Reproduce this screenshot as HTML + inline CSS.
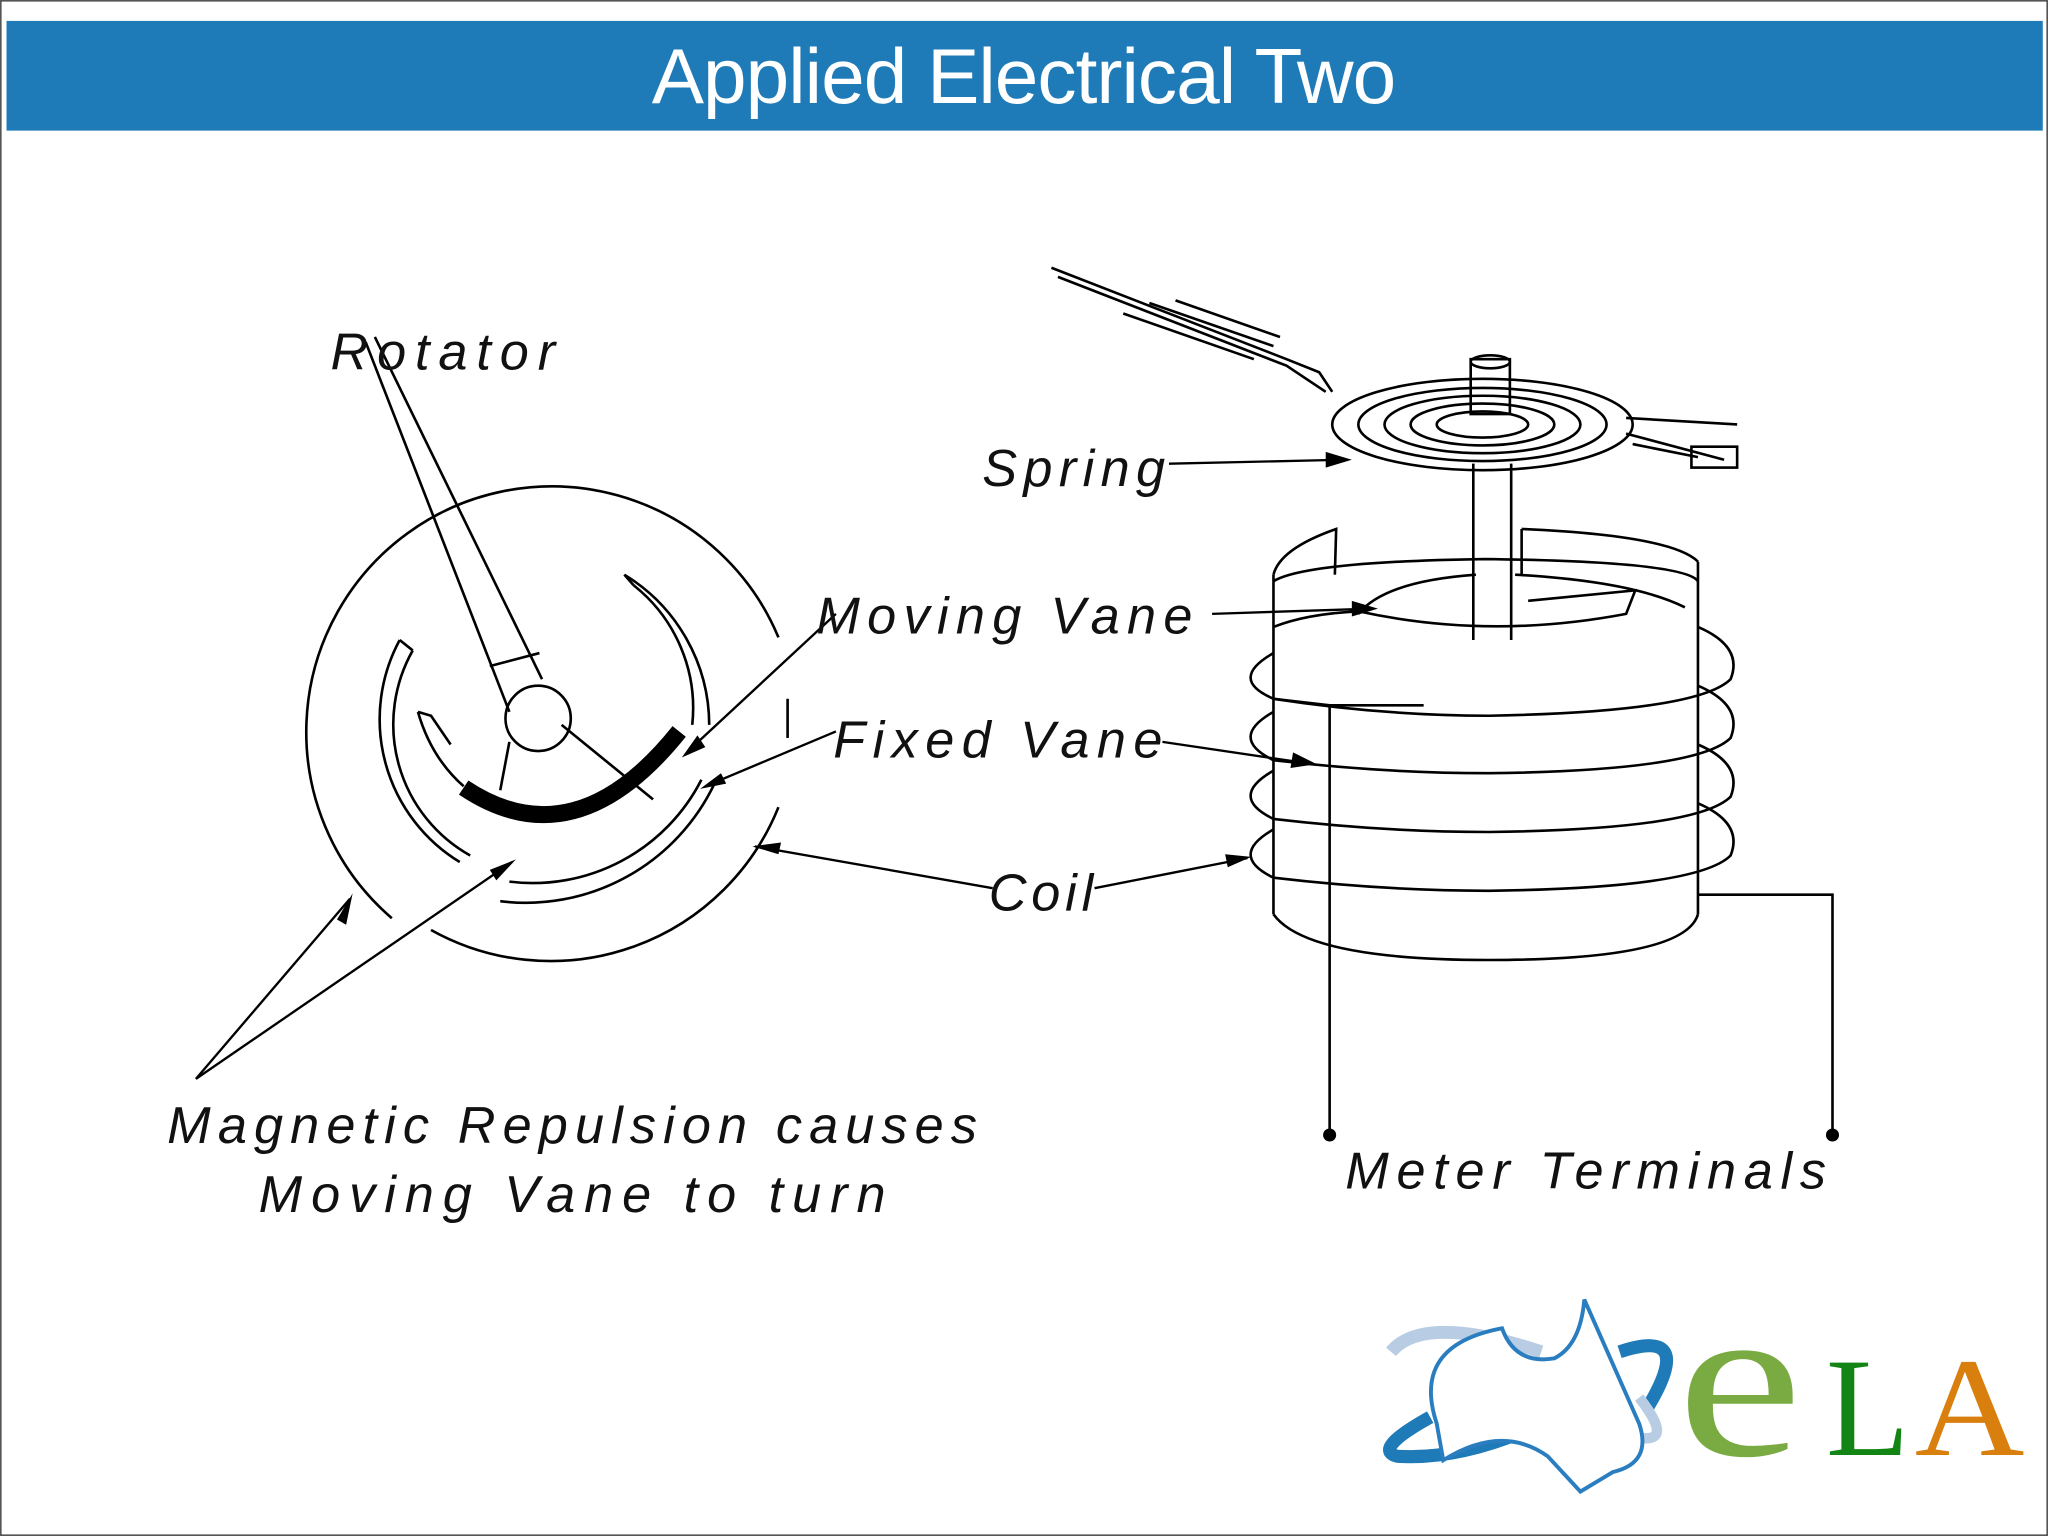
<!DOCTYPE html>
<html><head><meta charset="utf-8"><style>
html,body{margin:0;padding:0;background:#fff}
svg{display:block}
</style></head><body>
<svg width="2048" height="1536" viewBox="0 0 1568 1176" xmlns="http://www.w3.org/2000/svg">
<rect x="0.5" y="0.5" width="1567" height="1175" fill="#fff" stroke="#555" stroke-width="1.5"/>
<rect x="5" y="16" width="1559" height="84" fill="#1f7bb8"/>
<text x="784" y="79" text-anchor="middle" font-family="Liberation Sans, sans-serif" font-size="60" fill="#fff" textLength="570">Applied Electrical Two</text>

<g fill="none" stroke="#000" stroke-width="2">
<path d="M 596 488 A 188 188 0 1 0 300 703"/>
<path d="M 330 712 A 188 188 0 0 0 596 618"/>
<path d="M 306 490 A 128 128 0 0 0 352 660"/>
<path d="M 316 498 A 115 115 0 0 0 360 655"/>
<path d="M 478 440 A 135 135 0 0 1 543 555"/>
<path d="M 485 448 A 120 120 0 0 1 530 555"/>
<path d="M 306 490 L 316 498"/><path d="M 478 440 L 485 448"/>
<path d="M 390 675 A 145 145 0 0 0 537 597"/>
<path d="M 383 690 A 160 160 0 0 0 547 600"/>
<path d="M 320 545 L 330 548 L 345 570"/>
<path d="M 320 545 Q 330 580 355 602"/>
<circle cx="412" cy="550" r="25"/>
<path d="M 280 262 L 390 545"/>
<path d="M 287 258 L 415 520"/>
<path d="M 375 510 L 413 500"/>
<path d="M 430 555 L 500 612"/>
<path d="M 390 568 L 383 605"/>
<path d="M 603 535 L 603 565"/>
</g>
<path d="M 355 603 Q 440 660 520 560" fill="none" stroke="#000" stroke-width="13"/>

<g fill="none" stroke="#000" stroke-width="1.8">
<path d="M 640 470 L 528 574"/>
<path d="M 640 560 L 540 602"/>
<path d="M 760 680 L 578 648"/>
<path d="M 150 826 L 268 688"/>
<path d="M 150 826 L 392 660"/>
</g>
<g fill="#000">
<polygon points="522,580 534,563 540,572"/>
<polygon points="536,604 552,592 556,600"/>
<polygon points="576,648 598,645 596,654"/>
<polygon points="270,684 258,704 265,708"/>
<polygon points="395,658 375,666 380,674"/>
</g>

<g fill="none" stroke="#000" stroke-width="2">
<path d="M 805 205 L 985 275 L 1010 285 L 1020 300"/>
<path d="M 810 212 L 985 280 L 1015 300"/>
<path d="M 860 240 L 960 275"/>
<path d="M 880 232 L 975 265"/>
<path d="M 900 230 L 980 258"/>
<ellipse cx="1135" cy="325" rx="115" ry="35"/>
<ellipse cx="1135" cy="325" rx="95" ry="28"/>
<ellipse cx="1135" cy="325" rx="75" ry="22"/>
<ellipse cx="1135" cy="325" rx="55" ry="16"/>
<ellipse cx="1135" cy="325" rx="35" ry="10"/>
<path d="M 1245 320 L 1330 325 M 1245 332 L 1320 352 M 1250 340 L 1300 350"/>
<rect x="1295" y="342" width="35" height="16"/>
<rect x="1126" y="275" width="30" height="42"/>
<ellipse cx="1141" cy="277" rx="15" ry="5"/>
<path d="M 1128 355 L 1128 490 M 1157 355 L 1157 490"/>
<path d="M 975 440 L 975 700 M 1300 430 L 1300 700"/>
<path d="M 975 440 Q 980 420 1023 405 L 1022 440"/>
<path d="M 1165 405 L 1165 440 M 1165 405 Q 1280 410 1300 430"/>
<path d="M 1040 468 Q 1140 490 1245 470 L 1252 452 L 1170 460"/>
<path d="M 1040 470 Q 1060 445 1130 440 M 1160 440 Q 1250 445 1290 465"/>
<path d="M 975 700 Q 1000 735 1140 735 Q 1290 735 1300 700"/>
<path d="M 975 445 Q 1000 430 1137 428 Q 1290 430 1300 445"/>
<path d="M 975 500 Q 940 520 975 535 Q 1060 548 1140 548 Q 1300 545 1325 520 Q 1335 495 1300 480"/>
<path d="M 975 545 Q 940 565 975 582 Q 1060 592 1140 592 Q 1300 590 1325 565 Q 1335 540 1300 525"/>
<path d="M 975 590 Q 940 610 975 627 Q 1060 637 1140 637 Q 1300 635 1325 610 Q 1335 585 1300 570"/>
<path d="M 975 635 Q 940 655 975 672 Q 1060 682 1140 682 Q 1300 680 1325 655 Q 1335 630 1300 615"/>
<path d="M 975 480 Q 1000 470 1040 468"/>
<path d="M 975 535 Q 1000 538 1018 540 L 1090 540"/>
<path d="M 1018 540 L 1018 868"/>
<path d="M 1300 685 L 1403 685 L 1403 868"/>
</g>
<circle cx="1018" cy="869" r="5"/><circle cx="1403" cy="869" r="5"/>

<g fill="none" stroke="#000" stroke-width="1.8">
<path d="M 895 355 L 1028 352"/>
<path d="M 928 470 L 1050 466"/>
<path d="M 890 568 L 1005 585"/>
<path d="M 838 680 L 955 657"/>
</g>
<g fill="#000">
<polygon points="1035,352 1015,346 1015,358"/>
<polygon points="1055,466 1035,460 1035,472"/>
<polygon points="1008,585 990,576 988,588"/>
<polygon points="958,656 938,654 940,664"/>
</g>

<g font-family="Liberation Sans, sans-serif" font-style="italic" font-size="40" fill="#111">
<text x="253" y="283" textLength="172">Rotator</text>
<text x="752" y="372" textLength="140">Spring</text>
<text x="625" y="485" textLength="288">Moving  Vane</text>
<text x="638" y="580" textLength="252">Fixed  Vane</text>
<text x="757" y="697" textLength="80">Coil</text>
<text x="128" y="875" textLength="620">Magnetic  Repulsion  causes</text>
<text x="198" y="928" textLength="480">Moving  Vane  to  turn</text>
<text x="1030" y="910" textLength="368">Meter  Terminals</text>
</g>

<g>
<path d="M 1065 1035 Q 1090 1005 1180 1035" fill="none" stroke="#b8cde3" stroke-width="10"/>
<path d="M 1095 1085 Q 1050 1110 1070 1115 Q 1120 1118 1180 1090" fill="none" stroke="#1f7bb8" stroke-width="10"/>
<path d="M 1240 1035 Q 1300 1015 1260 1080" fill="none" stroke="#1f7bb8" stroke-width="10"/>
<path d="M 1235 1095 Q 1290 1115 1255 1070" fill="none" stroke="#b8cde3" stroke-width="8"/>
<path d="M 1100 1090 Q 1080 1030 1150 1017 Q 1160 1045 1190 1040 Q 1210 1030 1213 995 L 1255 1090 Q 1265 1120 1235 1127 L 1210 1142 L 1185 1115 Q 1150 1090 1105 1118 Z" fill="#fff" stroke="#2a7ec0" stroke-width="3"/>
<text x="1284" y="1114" font-family="Liberation Serif, serif" font-size="170" fill="#7aab43" textLength="96" lengthAdjust="spacingAndGlyphs">e</text>
<text x="1398" y="1114" font-family="Liberation Serif, serif" font-size="108" fill="#128515" textLength="64" lengthAdjust="spacingAndGlyphs">L</text>
<text x="1466" y="1114" font-family="Liberation Serif, serif" font-size="108" fill="#d97f0e" textLength="84" lengthAdjust="spacingAndGlyphs">A</text>
</g>
</svg>
</body></html>
